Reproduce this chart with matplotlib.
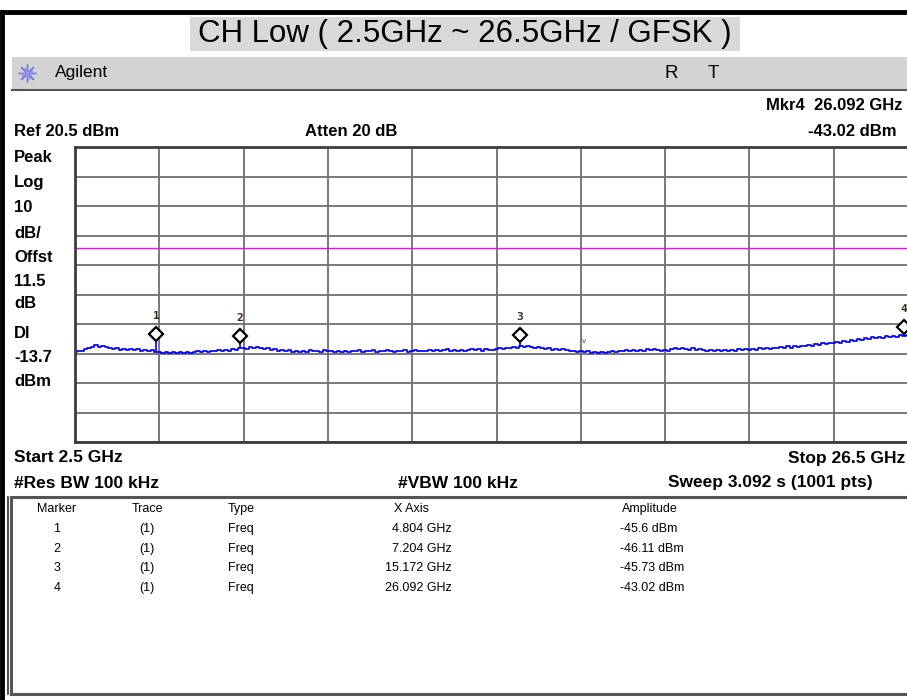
import numpy as np
import matplotlib
matplotlib.use('Agg')
import matplotlib.pyplot as plt
from matplotlib import transforms
from matplotlib.patches import Rectangle
from matplotlib.lines import Line2D

W, H = 907, 700

# analyzer settings
start_ghz, stop_ghz = 2.5, 26.5
ref_dbm = 20.5
db_per_div = 10
display_line_dbm = -13.7

# peak trace, one reading every 0.1 GHz from start to stop (one row per GHz)
trace_dbm = [
    -48.9, -48.7, -48.5, -48.0, -47.6, -47.2, -46.6, -47.3, -46.8, -47.4,
    -47.7, -48.0, -47.8, -48.2, -47.9, -48.3, -48.0, -48.4, -48.1, -48.5,
    -48.2, -48.6, -48.3, -48.9, -49.1, -49.4, -49.0, -49.3, -48.9, -49.4,
    -49.0, -49.3, -48.9, -49.4, -49.1, -48.7, -49.0, -48.6, -48.9, -48.5,
    -48.7, -48.3, -48.6, -48.2, -48.5, -48.1, -48.3, -47.8, -47.5, -47.9,
    -47.3, -47.7, -47.2, -47.6, -48.1, -47.8, -48.3, -48.0, -48.5, -48.2,
    -48.8, -48.4, -48.9, -48.5, -49.1, -48.6, -48.9, -48.4, -48.8, -48.5,
    -48.9, -48.3, -48.8, -48.6, -49.0, -48.5, -48.9, -48.7, -49.1, -48.6,
    -48.8, -48.4, -48.9, -48.5, -48.7, -48.3, -48.9, -48.6, -48.8, -48.4,
    -48.7, -48.9, -48.5, -48.8, -48.4, -48.9, -48.6, -48.3, -48.7, -48.5,
    -48.8, -48.4, -48.6, -48.2, -48.7, -48.4, -48.1, -48.6, -48.3, -48.5,
    -48.2, -48.6, -48.3, -47.9, -48.4, -48.1, -48.5, -48.0, -48.4, -48.2,
    -48.0, -47.6, -48.1, -47.5, -47.8, -47.2, -47.6, -47.0, -47.4, -46.9,
    -47.3, -47.6, -47.2, -47.8, -48.0, -47.7, -48.2, -47.9, -48.3, -48.1,
    -48.4, -48.8, -48.5, -48.9, -48.6, -49.0, -48.7, -49.2, -48.9, -49.4,
    -49.0, -49.3, -48.9, -48.6, -49.0, -48.5, -48.8, -48.3, -48.7, -48.4,
    -48.6, -48.2, -48.5, -48.1, -48.4, -48.0, -48.3, -48.6, -48.2, -48.5,
    -48.1, -47.6, -48.0, -47.5, -47.9, -48.2, -47.8, -48.3, -48.0, -48.4,
    -48.6, -48.3, -48.7, -48.4, -48.8, -48.3, -48.6, -48.2, -48.5, -48.1,
    -48.3, -48.0, -48.4, -47.9, -48.2, -47.7, -48.1, -47.6, -47.9, -47.5,
    -47.8, -47.3, -47.6, -47.1, -47.5, -47.0, -47.3, -46.8, -47.1, -46.6,
    -46.9, -46.4, -46.7, -46.1, -46.4, -45.8, -46.1, -45.5, -45.8, -45.2,
    -45.5, -44.9, -45.2, -44.6, -44.9, -44.3, -44.6, -44.0, -44.4, -43.9,
    -44.2, -43.7, -44.0, -43.5, -43.8, -43.3, -43.6, -43.2, -43.5, -43.3,
    -43.4,
]

marker_ids = ['1', '2', '3', '4']
marker_ghz = [4.804, 7.204, 15.172, 26.092]
marker_dbm = [-45.6, -46.11, -45.73, -43.02]
marker_trace = ['(1)', '(1)', '(1)', '(1)']
marker_type = ['Freq', 'Freq', 'Freq', 'Freq']

left_labels = ['Peak', 'Log', '10', 'dB/', 'Offst', '11.5', 'dB', 'Dl', '-13.7', 'dBm']
left_label_y = [157, 183, 208, 233, 258, 281, 304, 334, 358, 381]

ARIAL = ['Liberation Sans', 'DejaVu Sans']

fig = plt.figure(figsize=(W / 100, H / 100), dpi=100)


def fx(x):
    return x / W


def fy(y):
    return 1 - y / H


def txt(x, y, s, **kw):
    kw.setdefault('va', 'center')
    kw.setdefault('family', ARIAL)
    fig.text(fx(x), fy(y), s, **kw)


def box(x0, y0, x1, y1, **kw):
    fig.add_artist(Rectangle((fx(x0), fy(y1)), fx(x1) - fx(x0), fy(y0) - fy(y1),
                             transform=fig.transFigure, **kw))


def hline(y, x0, x1, **kw):
    fig.add_artist(Line2D([fx(x0), fx(x1)], [fy(y), fy(y)], transform=fig.transFigure, **kw))


def vline(x, y0, y1, **kw):
    fig.add_artist(Line2D([fx(x), fx(x)], [fy(y0), fy(y1)], transform=fig.transFigure, **kw))


# outer frame
hline(12, 0, W, color='black', lw=3.5)
vline(2, 12, H, color='black', lw=3.5)
vline(8, 497, 694, color='#303030', lw=1.2)

# title
box(190, 17, 740, 51, facecolor='#d9d9d9', edgecolor='none')
txt(465, 34, 'CH Low ( 2.5GHz ~ 26.5GHz / GFSK )', ha='center', fontsize=22.5)

# instrument header bar
box(12, 57, W, 89, facecolor='#d3d3d3', edgecolor='none')
hline(90, 12, W, color='#555555', lw=1.5)
fig.add_artist(Line2D([fx(27)], [fy(73)], transform=fig.transFigure, marker=(8, 2, 0),
                      markersize=13, color='#7a7ae0', mew=1.0, ls='none'))
fig.add_artist(Line2D([fx(27)], [fy(73)], transform=fig.transFigure, marker=(4, 2, 22.5),
                      markersize=9, color='#9a9ae8', mew=0.8, ls='none'))
txt(55, 73, 'Agilent', fontsize=12.5)
txt(665, 73, 'R', fontsize=13.5)
txt(708, 73, 'T', fontsize=13.5)

# readouts above the graticule
txt(903, 105, 'Mkr4  26.092 GHz', ha='right', fontsize=12, weight='bold')
txt(897, 132, '-43.02 dBm', ha='right', fontsize=12, weight='bold')
txt(14, 132, 'Ref 20.5 dBm', fontsize=12, weight='bold')
txt(305, 132, 'Atten 20 dB', fontsize=12, weight='bold')
for s, y in zip(left_labels, left_label_y):
    txt(14, y, s, fontsize=12, weight='bold')

# graticule: 10 x 10 divisions
ax = fig.add_axes([fx(75), fy(442), fx(918) - fx(75), fy(147) - fy(442)])
ax.set_xlim(start_ghz, stop_ghz)
ax.set_ylim(ref_dbm - 10 * db_per_div, ref_dbm)
ax.set_xticks(np.linspace(start_ghz, stop_ghz, 11))
ax.set_yticks(np.arange(ref_dbm - 10 * db_per_div, ref_dbm + 1, db_per_div))
ax.tick_params(length=0, labelbottom=False, labelleft=False)
ax.grid(True, color='#6e6e6e', lw=1.3)
ax.set_axisbelow(True)
for sp in ax.spines.values():
    sp.set_color('#3c3c3c')
    sp.set_linewidth(2)

freq = np.linspace(start_ghz, stop_ghz, len(trace_dbm))
ax.plot(freq, trace_dbm, color='#0000ff', lw=1.25, drawstyle='steps-mid')
base = np.interp(marker_ghz, freq, trace_dbm)
ax.vlines(marker_ghz, base, marker_dbm, color='#0000ff', lw=1.2)

ax.axhline(display_line_dbm, color='#ff00ff', lw=1.0)

# marker diamonds sit just above the peak, numbers above them
diamond_tr = transforms.offset_copy(ax.transData, fig=fig, x=0, y=5.5, units='points')
label_tr = transforms.offset_copy(ax.transData, fig=fig, x=0, y=18.5, units='points')
ax.plot(marker_ghz, marker_dbm, ls='none', marker='D', markersize=7.5, mfc='white',
        mec='black', mew=1.6, transform=diamond_tr, clip_on=False, zorder=5)
for m, f, a in zip(marker_ids, marker_ghz, marker_dbm):
    ax.text(f, a, m, transform=label_tr, ha='center', va='center', fontsize=8,
            weight='bold', family='DejaVu Sans Mono', color='#3a2a1a', clip_on=False)
ax.text(17.0, -45.3, 'v', ha='center', va='center', fontsize=5, color='#444444')

# sweep settings below the graticule
txt(14, 458, 'Start 2.5 GHz', fontsize=12.5, weight='bold')
txt(905, 458, 'Stop 26.5 GHz', ha='right', fontsize=12.5, weight='bold')
txt(14, 483, '#Res BW 100 kHz', fontsize=12.5, weight='bold')
txt(398, 483, '#VBW 100 kHz', fontsize=12.5, weight='bold')
txt(668, 483, 'Sweep 3.092 s (1001 pts)', fontsize=12.5, weight='bold')

# marker table
box(11, 497, W + 5, 694, facecolor='white', edgecolor='#555555', lw=2.2)
tbl = dict(fontsize=9)
txt(57, 509, 'Marker', ha='center', **tbl)
txt(147, 509, 'Trace', ha='center', **tbl)
txt(228, 509, 'Type', **tbl)
txt(411, 509, 'X Axis', ha='center', **tbl)
txt(650, 509, 'Amplitude', ha='center', **tbl)
for i, (m, tr, ty, f, a) in enumerate(zip(marker_ids, marker_trace, marker_type, marker_ghz, marker_dbm)):
    y = 529 + i * 19.7
    txt(57, y, m, ha='center', **tbl)
    txt(147, y, tr, ha='center', **tbl)
    txt(228, y, ty, **tbl)
    txt(452, y, f'{f:.3f} GHz', ha='right', **tbl)
    txt(620, y, f'{a:g} dBm', **tbl)

fig.savefig('out.png', dpi=100)
